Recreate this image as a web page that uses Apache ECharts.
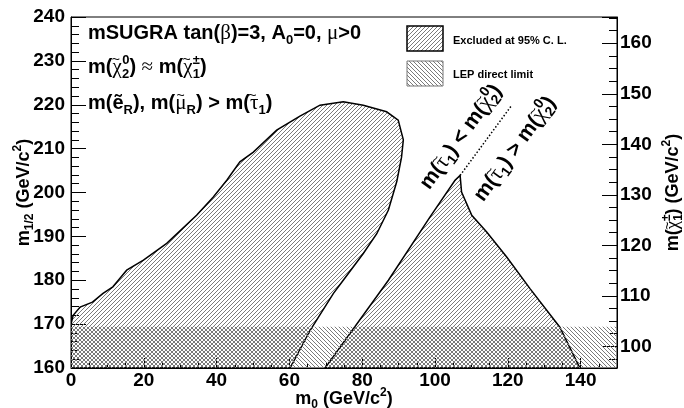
<!DOCTYPE html>
<html><head><meta charset="utf-8">
<script src="https://cdn.jsdelivr.net/npm/echarts@6/dist/echarts.min.js"></script>
<style>html,body{margin:0;padding:0;background:#fff}#c{width:684px;height:408px}</style>
</head><body><div id="c"></div>
<script>
// ---- data ----
const blobM0  = [0, 0, 0.6, 2.5, 5.9, 8.8, 11.5, 13.0, 15.3, 19.9, 26.3, 34.5, 39.1, 42.8, 46.4, 50.1, 56.5, 62.9, 68.4, 74.8, 80.3, 86.7, 89.9, 91.3, 90.8, 89.5, 87.2, 84.0, 80.3, 74.8, 72.1, 65.7, 60.2];
const blobM12 = [160, 170, 172.0, 173.9, 175.0, 177.0, 178.5, 180.0, 182.3, 184.6, 188.4, 194.8, 199.0, 202.8, 207.0, 209.2, 214.2, 217.4, 219.9, 220.7, 219.9, 218.4, 216.5, 212.0, 208.0, 202.5, 196.0, 190.6, 186.1, 180.0, 177.0, 168.6, 160];
const triM0  = [69.8, 87.2, 98.6, 105.5, 106.9, 107.3, 110.1, 114.2, 119.7, 126.1, 134.3, 139.8];
const triM12 = [160, 180.0, 194.4, 202.8, 203.9, 200.1, 194.8, 191.0, 185.3, 178.1, 169.3, 160];
const lepM0  = [0, 150];
const lepM12 = [160, 169.4];
const dotM0  = [106.9, 121.1];
const dotM12 = [203.9, 219.9];
const xRange = [0, 150], xStep = 20;
const yRange = [160, 240], yStep = 10;
const chiRange = [95.7, 165.2];
const legendLabels = ['Excluded at 95% C. L.', 'LEP direct limit'];

// ---- helpers ----
const FONT = 'Liberation Sans, Arial, Helvetica, sans-serif';
const GREEK = 'Liberation Serif, DejaVu Serif, serif';

function hatch(dir, color, s) {
  const c = document.createElement('canvas'); c.width = s; c.height = s;
  const g = c.getContext('2d'); g.fillStyle = color;
  for (let i = 0; i < s; i++) g.fillRect(i, dir > 0 ? s - 1 - i : i, 1, 1);
  return c;
}
const exclPat = {image: hatch(1, '#7a7a7a', 4), repeat: 'repeat'};
const lepPat  = {image: hatch(-1, '#7a7a7a', 4), repeat: 'repeat'};

function polygonSeries(name, xs, ys, fill, stroke, z) {
  return {
    type: 'custom', name: name, z: z, silent: true, animation: false, clip: true,
    data: xs.map((x, i) => [x, ys[i]]),
    renderItem: function (params, api) {
      if (params.dataIndex !== 0) return null;
      const pts = xs.map((x, i) => api.coord([x, ys[i]]));
      return {type: 'polygon', shape: {points: pts},
        style: {fill: fill, stroke: stroke || null, lineWidth: stroke ? 1.5 : 0}};
    }
  };
}
function rectSeries(name, xs, ys, fill, z) {
  return {
    type: 'custom', name: name, z: z, silent: true, animation: false, clip: true,
    data: [[xs[0], ys[0], xs[1], ys[1]]],
    renderItem: function (params, api) {
      const p0 = api.coord([api.value(0), api.value(1)]);
      const p1 = api.coord([api.value(2), api.value(3)]);
      return {type: 'rect', shape: {x: p0[0], y: p1[1], width: p1[0] - p0[0], height: p0[1] - p1[1]},
        style: {fill: fill}};
    }
  };
}

// rich styles; key = fill (zrender graphic) or color (echarts label)
function rich(size, sub, L, key) {
  const s = (o) => { o[key] = '#000'; return o; };
  const subW = Math.round(sub * 0.556);
  const gW = Math.round((size + 1) * 0.55);
  const tW = Math.round(14 * 0.58);
  return {
    b: s({fontSize: size, fontWeight: 'bold', fontFamily: FONT, lineHeight: L}),
    g: s({fontSize: size + 1, fontFamily: GREEK, lineHeight: L}),
    t: s({fontSize: 14, fontFamily: FONT, verticalAlign: 'top',
          padding: [0, Math.round(gW / 2 - tW / 2), 0, -Math.round(gW / 2 + tW / 2)]}),
    sub: s({fontSize: sub, fontWeight: 'bold', fontFamily: FONT, verticalAlign: 'bottom'}),
    sup: s({fontSize: sub, fontWeight: 'bold', fontFamily: FONT, verticalAlign: 'top'}),
    supS: s({fontSize: sub, fontWeight: 'bold', fontFamily: FONT, verticalAlign: 'top', padding: [0, 0, 0, -subW]})
  };
}
const CHI = '{g|\u03C7}{t|~}', TAU = '{g|\u03C4}{t|~}', MUT = '{g|\u03BC}{t|~}';
function txt(text, x, y, size, sub, L, rot) {
  return {type: 'text', x: x, y: y, rotation: rot || 0, z: 100, silent: true,
    style: {text: text, fontSize: size, fontWeight: 'bold', fontFamily: FONT, fill: '#000',
      align: rot ? 'center' : 'left', verticalAlign: 'middle', rich: rich(size, sub, L, 'fill')}};
}

const labelFont = {fontSize: 19, fontWeight: 'bold', fontFamily: FONT, color: '#000'};
const rot = 54 * Math.PI / 180;

const option = {
  animation: false,
  backgroundColor: '#fff',
  grid: {left: 71, right: 67, top: 17, bottom: 40, containLabel: false, outerBoundsMode: 'none',
    show: true, borderColor: '#000', borderWidth: 1, backgroundColor: 'transparent'},
  xAxis: {
    type: 'value', min: xRange[0], max: xRange[1], interval: xStep,
    axisLine: {show: true, onZero: false, lineStyle: {color: '#000', width: 1}},
    axisTick: {show: true, inside: true, length: 10, lineStyle: {color: '#000'}},
    minorTick: {show: true, splitNumber: 4, length: 5, lineStyle: {color: '#000'}},
    splitLine: {show: false},
    axisLabel: Object.assign({margin: 3, showMaxLabel: false}, labelFont),
    name: '{b|m}{sub|0}{b| (GeV/c}{sup|2}{b|)}', nameLocation: 'middle', nameGap: 19, nameMoveOverlap: false,
    nameTextStyle: {rich: rich(18, 12, 24, 'color')}
  },
  yAxis: [{
    type: 'value', min: yRange[0], max: yRange[1], interval: yStep,
    axisLine: {show: true, onZero: false, lineStyle: {color: '#000', width: 1}},
    axisTick: {show: true, inside: true, length: 15, lineStyle: {color: '#000'}},
    minorTick: {show: true, splitNumber: 5, length: 8, lineStyle: {color: '#000'}},
    splitLine: {show: false},
    axisLabel: Object.assign({margin: 6, padding: [6, 0, 0, 0]}, labelFont),
    name: '{b|m}{sub|1/2}{b| (GeV/c}{sup|2}{b|)}', nameLocation: 'middle', nameGap: 35, nameRotate: 90, nameMoveOverlap: false,
    nameTextStyle: {rich: rich(18, 12, 24, 'color')}
  }, {
    type: 'value', position: 'right', min: chiRange[0], max: chiRange[1], splitNumber: 7,
    axisLine: {show: true, onZero: false, lineStyle: {color: '#000', width: 1}},
    axisTick: {show: true, inside: true, length: 15, lineStyle: {color: '#000'}},
    minorTick: {show: true, splitNumber: 4, length: 8, lineStyle: {color: '#000'}},
    splitLine: {show: false},
    axisLabel: Object.assign({margin: 3, showMinLabel: false, showMaxLabel: false}, labelFont),
    name: '{b|m(}' + CHI + '{sub|1}{supS|\u00B1}{b|) (GeV/c}{sup|2}{b|)}', nameLocation: 'middle', nameGap: 44, nameRotate: 90, nameMoveOverlap: false,
    nameTextStyle: {rich: rich(18, 12, 24, 'color')}
  }],
  series: [
    polygonSeries('excl-left', blobM0, blobM12, exclPat, '#000', 2),
    polygonSeries('excl-right', triM0, triM12, exclPat, '#000', 2),
    rectSeries('LEP', lepM0, lepM12, lepPat, 3),
    {type: 'line', name: 'stau-line', data: dotM0.map((x, i) => [x, dotM12[i]]), showSymbol: false, symbol: 'none',
      silent: true, z: 5, lineStyle: {color: '#000', width: 1.5, type: [1.5, 2]}}
  ],
  graphic: [
    {type: 'rect', shape: {x: 407, y: 26, width: 36, height: 25}, style: {fill: exclPat, stroke: '#000', lineWidth: 1.5}, z: 100, silent: true},
    {type: 'rect', shape: {x: 407, y: 61, width: 36, height: 25}, style: {fill: lepPat, stroke: '#777', lineWidth: 1}, z: 100, silent: true},
    {type: 'text', x: 453, y: 40.5, z: 100, silent: true, style: {text: legendLabels[0], fontSize: 11, fontWeight: 'bold', fontFamily: FONT, fill: '#000', verticalAlign: 'middle'}},
    {type: 'text', x: 453, y: 75, z: 100, silent: true, style: {text: legendLabels[1], fontSize: 11, fontWeight: 'bold', fontFamily: FONT, fill: '#000', verticalAlign: 'middle'}},
    txt('{b|mSUGRA tan(}{g|\u03B2}{b|)=3, A}{sub|0}{b|=0, }{g|\u03BC}{b|>0}', 88, 33, 20, 13, 27),
    txt('{b|m(}' + CHI + '{sub|2}{supS|0}{b|) }{g|\u2248}{b| m(}' + CHI + '{sub|1}{supS|\u00B1}{b|)}', 88, 67, 20, 13, 27),
    txt('{b|m(\u1EBD}{sub|R}{b|), m(}' + MUT + '{sub|R}{b|) > m(}' + TAU + '{sub|1}{b|)}', 88, 103, 20, 13, 27),
    txt('{b|m(}' + TAU + '{sub|1}{b|) < m(}' + CHI + '{sub|2}{supS|0}{b|)}', 461, 137, 21, 14, 28, rot),
    txt('{b|m(}' + TAU + '{sub|1}{b|) > m(}' + CHI + '{sub|2}{supS|0}{b|)}', 515, 149, 21, 14, 28, rot)
  ]
};
const chart = echarts.init(document.getElementById('c'));
chart.setOption(option);
</script></body></html>
